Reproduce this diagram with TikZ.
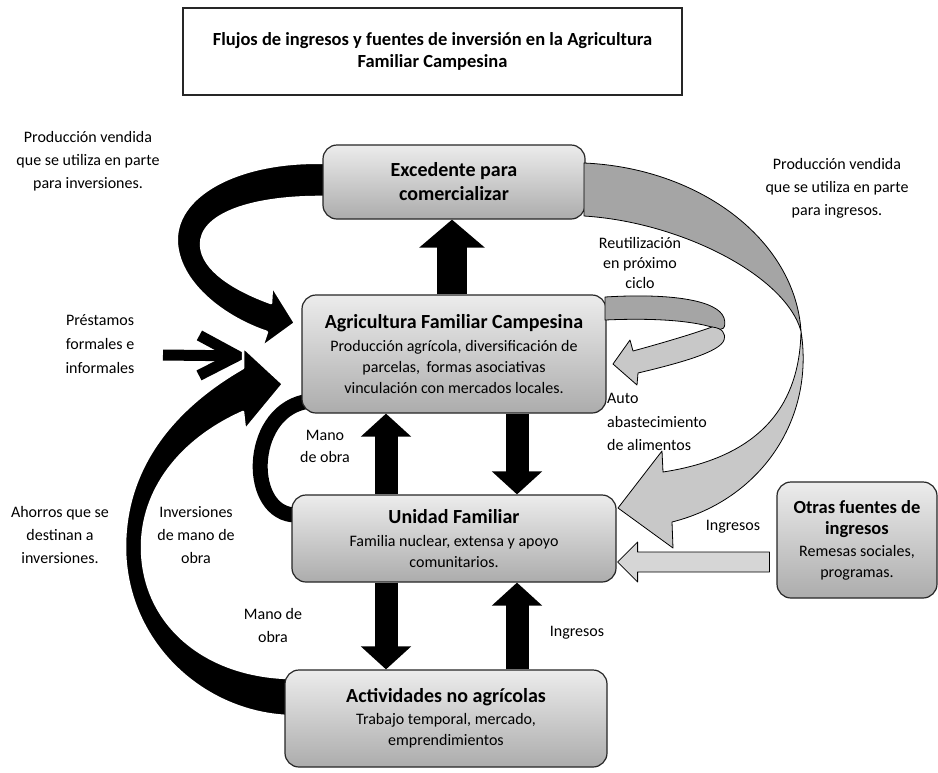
\documentclass[tikz,border=0pt]{standalone}
\usepackage{fontspec}
\setmainfont{Carlito}
\usetikzlibrary{arrows.meta,calc}
\definecolor{boxTop}{RGB}{236,236,236}
\definecolor{boxBot}{RGB}{172,172,172}
\definecolor{bandDark}{RGB}{165,165,165}
\definecolor{bandLight}{RGB}{200,200,200}
\definecolor{arrLight}{RGB}{214,214,214}
\begin{document}
\begin{tikzpicture}[x=1pt,y=-1pt,
  box/.style={draw=black!85, line width=1.2pt, rounded corners=14pt,
    top color=boxTop, bottom color=boxBot, align=center, inner sep=0pt,
    font=\fontsize{16}{21}\selectfont},
  lbl/.style={align=center, inner sep=0pt, font=\fontsize{16}{23}\selectfont},
  blk/.style={line width=23pt, -{Triangle[length=23pt,width=49pt]}},
  blkbig/.style={line width=30pt, -{Triangle[length=28pt,width=64pt]}},
  ribbonA/.style={fill=bandDark, draw=black, line width=0.8pt, line join=round},
  ribbonB/.style={fill=bandLight, draw=black, line width=0.8pt, line join=round},
  blkshape/.style={fill=black, draw=white, line width=2.5pt, line join=round}]

\fill[white] (0,0) rectangle (938,772);
\useasboundingbox (0,0) rectangle (938,772);

% title
\node[draw=black!85, line width=1.2pt, minimum width=499pt, minimum height=87pt,
  align=center, inner sep=0pt, font=\fontsize{18.5}{22}\selectfont\bfseries]
  (title) at (432.5,51.5) {Flujos de ingresos y fuentes de inversión en la Agricultura\\Familiar Campesina};

% ---- black curved shapes behind boxes ----
% Mano de obra C arc (UF -> AFC)
\draw[line width=15pt] (304,402) .. controls (247,415) and (247,515) .. (296,515);

% Prestamos arrow
\coordinate (pStart) at (163,355);
\coordinate (pEnd) at (249,356);
\draw[line width=11pt, -{Straight Barb[length=38pt,width=40pt]}] (pStart) -- (pEnd);

% Ahorros big arc (Actividades -> AFC)
\draw[blkshape] (288,716) .. controls (200,712) and (125,640) .. (125,547)
  .. controls (125,470) and (170,410) .. (243,368) -- (243,347) -- (283,384)
  -- (245,430) -- (243,412) .. controls (180,440) and (142,490) .. (142,547)
  .. controls (142,620) and (200,675) .. (288,678) -- cycle;

% Excedente -> AFC arc
\draw[blkshape] (326,163) .. controls (240,160) and (172,195) .. (177,245)
  .. controls (181,285) and (225,318) .. (267,332) -- (262,347) -- (295,323)
  -- (272,286) -- (271,303) .. controls (235,290) and (202,270) .. (201,245)
  .. controls (200,215) and (250,196) .. (326,197) -- cycle;

% ---- boxes ----
\node[box, minimum width=262pt, minimum height=74pt, font=\fontsize{20}{24}\selectfont\bfseries]
  (exc) at (454,182) {Excedente para\\comercializar};
\node[box, minimum width=304pt, minimum height=118pt] (afc) at (454,354)
  {{\fontsize{20}{23}\selectfont\bfseries Agricultura Familiar Campesina}\\[2pt]
   Producción agrícola, diversificación de\\parcelas,\, formas asociativas\\vinculación con mercados locales.};
\node[box, minimum width=324pt, minimum height=87pt] (uf) at (454,538.5)
  {{\fontsize{20}{23}\selectfont\bfseries Unidad Familiar}\\[2pt]
   Familia nuclear, extensa y apoyo\\comunitarios.};
\node[box, minimum width=322pt, minimum height=97pt] (act) at (446,718.5)
  {{\fontsize{20}{23}\selectfont\bfseries Actividades no agrícolas}\\[1pt]
   Trabajo temporal, mercado,\\emprendimientos};
\node[box, minimum width=160pt, minimum height=116pt] (otr) at (857,540)
  {{\fontsize{18.5}{22}\selectfont\bfseries Otras fuentes de}\\
   {\fontsize{18.5}{22}\selectfont\bfseries ingresos}\\[1pt]
   Remesas sociales,\\programas.};

% ---- straight black arrows ----
\draw[blkbig] ([xshift=-2pt]afc.north) -- ([xshift=-2pt]exc.south);
\draw[blk] ([xshift=-68pt]uf.north) -- ([xshift=-68pt]afc.south);
\draw[blk] ([xshift=63pt]afc.south) -- ([xshift=63pt]uf.north);
\draw[blk] ([xshift=-68pt]uf.south) -- ([xshift=-60pt]act.north);
\draw[blk] ([xshift=71pt]act.north) -- ([xshift=63pt]uf.south);

% ---- gray ribbons ----
% big arc Excedente -> UF
\draw[ribbonA] (584,163) .. controls (700,168) and (795,240) .. (801,331)
  .. controls (785,275) and (680,222) .. (584,216) -- cycle;
\draw[ribbonB] (801,331) .. controls (800,390) and (775,455) .. (663,472)
  -- (662,451) -- (618,508) -- (673,548) -- (672,522)
  .. controls (760,500) and (815,420) .. (801,331) -- cycle;

% small loop AFC -> AFC
\draw[ribbonA] (605,297) .. controls (670,293) and (718,300) .. (724,318)
  .. controls (727,328) and (722,332) .. (715,328)
  .. controls (690,320) and (650,318) .. (605,320) -- cycle;
\draw[ribbonB] (712,327) .. controls (690,335) and (655,345) .. (633,351)
  -- (630,340) -- (613,364) -- (637,385) -- (638,373)
  .. controls (680,363) and (720,352) .. (724,340)
  .. controls (726,333) and (722,328) .. (712,327) -- cycle;

% straight gray arrow Otras -> UF
\draw[fill=arrLight, draw=black, line width=0.8pt, line join=round]
  ($(otr.west)+(-7,12)$) -- ($(uf.east)+(21,13.5)$) -- ($(uf.east)+(21,3.5)$)
  -- ($(uf.east)+(1,23.5)$) -- ($(uf.east)+(21,43.5)$) -- ($(uf.east)+(21,33.5)$)
  -- ($(otr.west)+(-7,32)$) -- cycle;

% ---- labels ----
\node[lbl] (l1) at (88,161) {Producción vendida\\que se utiliza en parte\\para inversiones.};
\node[lbl, font=\fontsize{16}{24}\selectfont] (l2) at (100,344) {Préstamos\\formales e\\informales};
\node[lbl] (l3) at (837,188) {Producción vendida\\que se utiliza en parte\\para ingresos.};
\node[lbl, font=\fontsize{16}{20}\selectfont] (l4) at (640,263) {Reutilización\\en próximo\\ciclo};
\node[lbl, align=left, anchor=west, font=\fontsize{16}{23.5}\selectfont] (l5) at (607,422) {Auto\\abastecimiento\\de alimentos};
\node[lbl, font=\fontsize{16}{22}\selectfont] (l6) at (325,446) {Mano\\de obra};
\node[lbl] (l7) at (60,535) {Ahorros que se\\destinan a\\inversiones.};
\node[lbl] (l8) at (196,535) {Inversiones\\de mano de\\obra};
\node[lbl] (l9) at (273,625) {Mano de\\obra};
\node[lbl] (l10) at (733,527) {Ingresos};
\node[lbl] (l11) at (577,633) {Ingresos};
\end{tikzpicture}
\end{document}
